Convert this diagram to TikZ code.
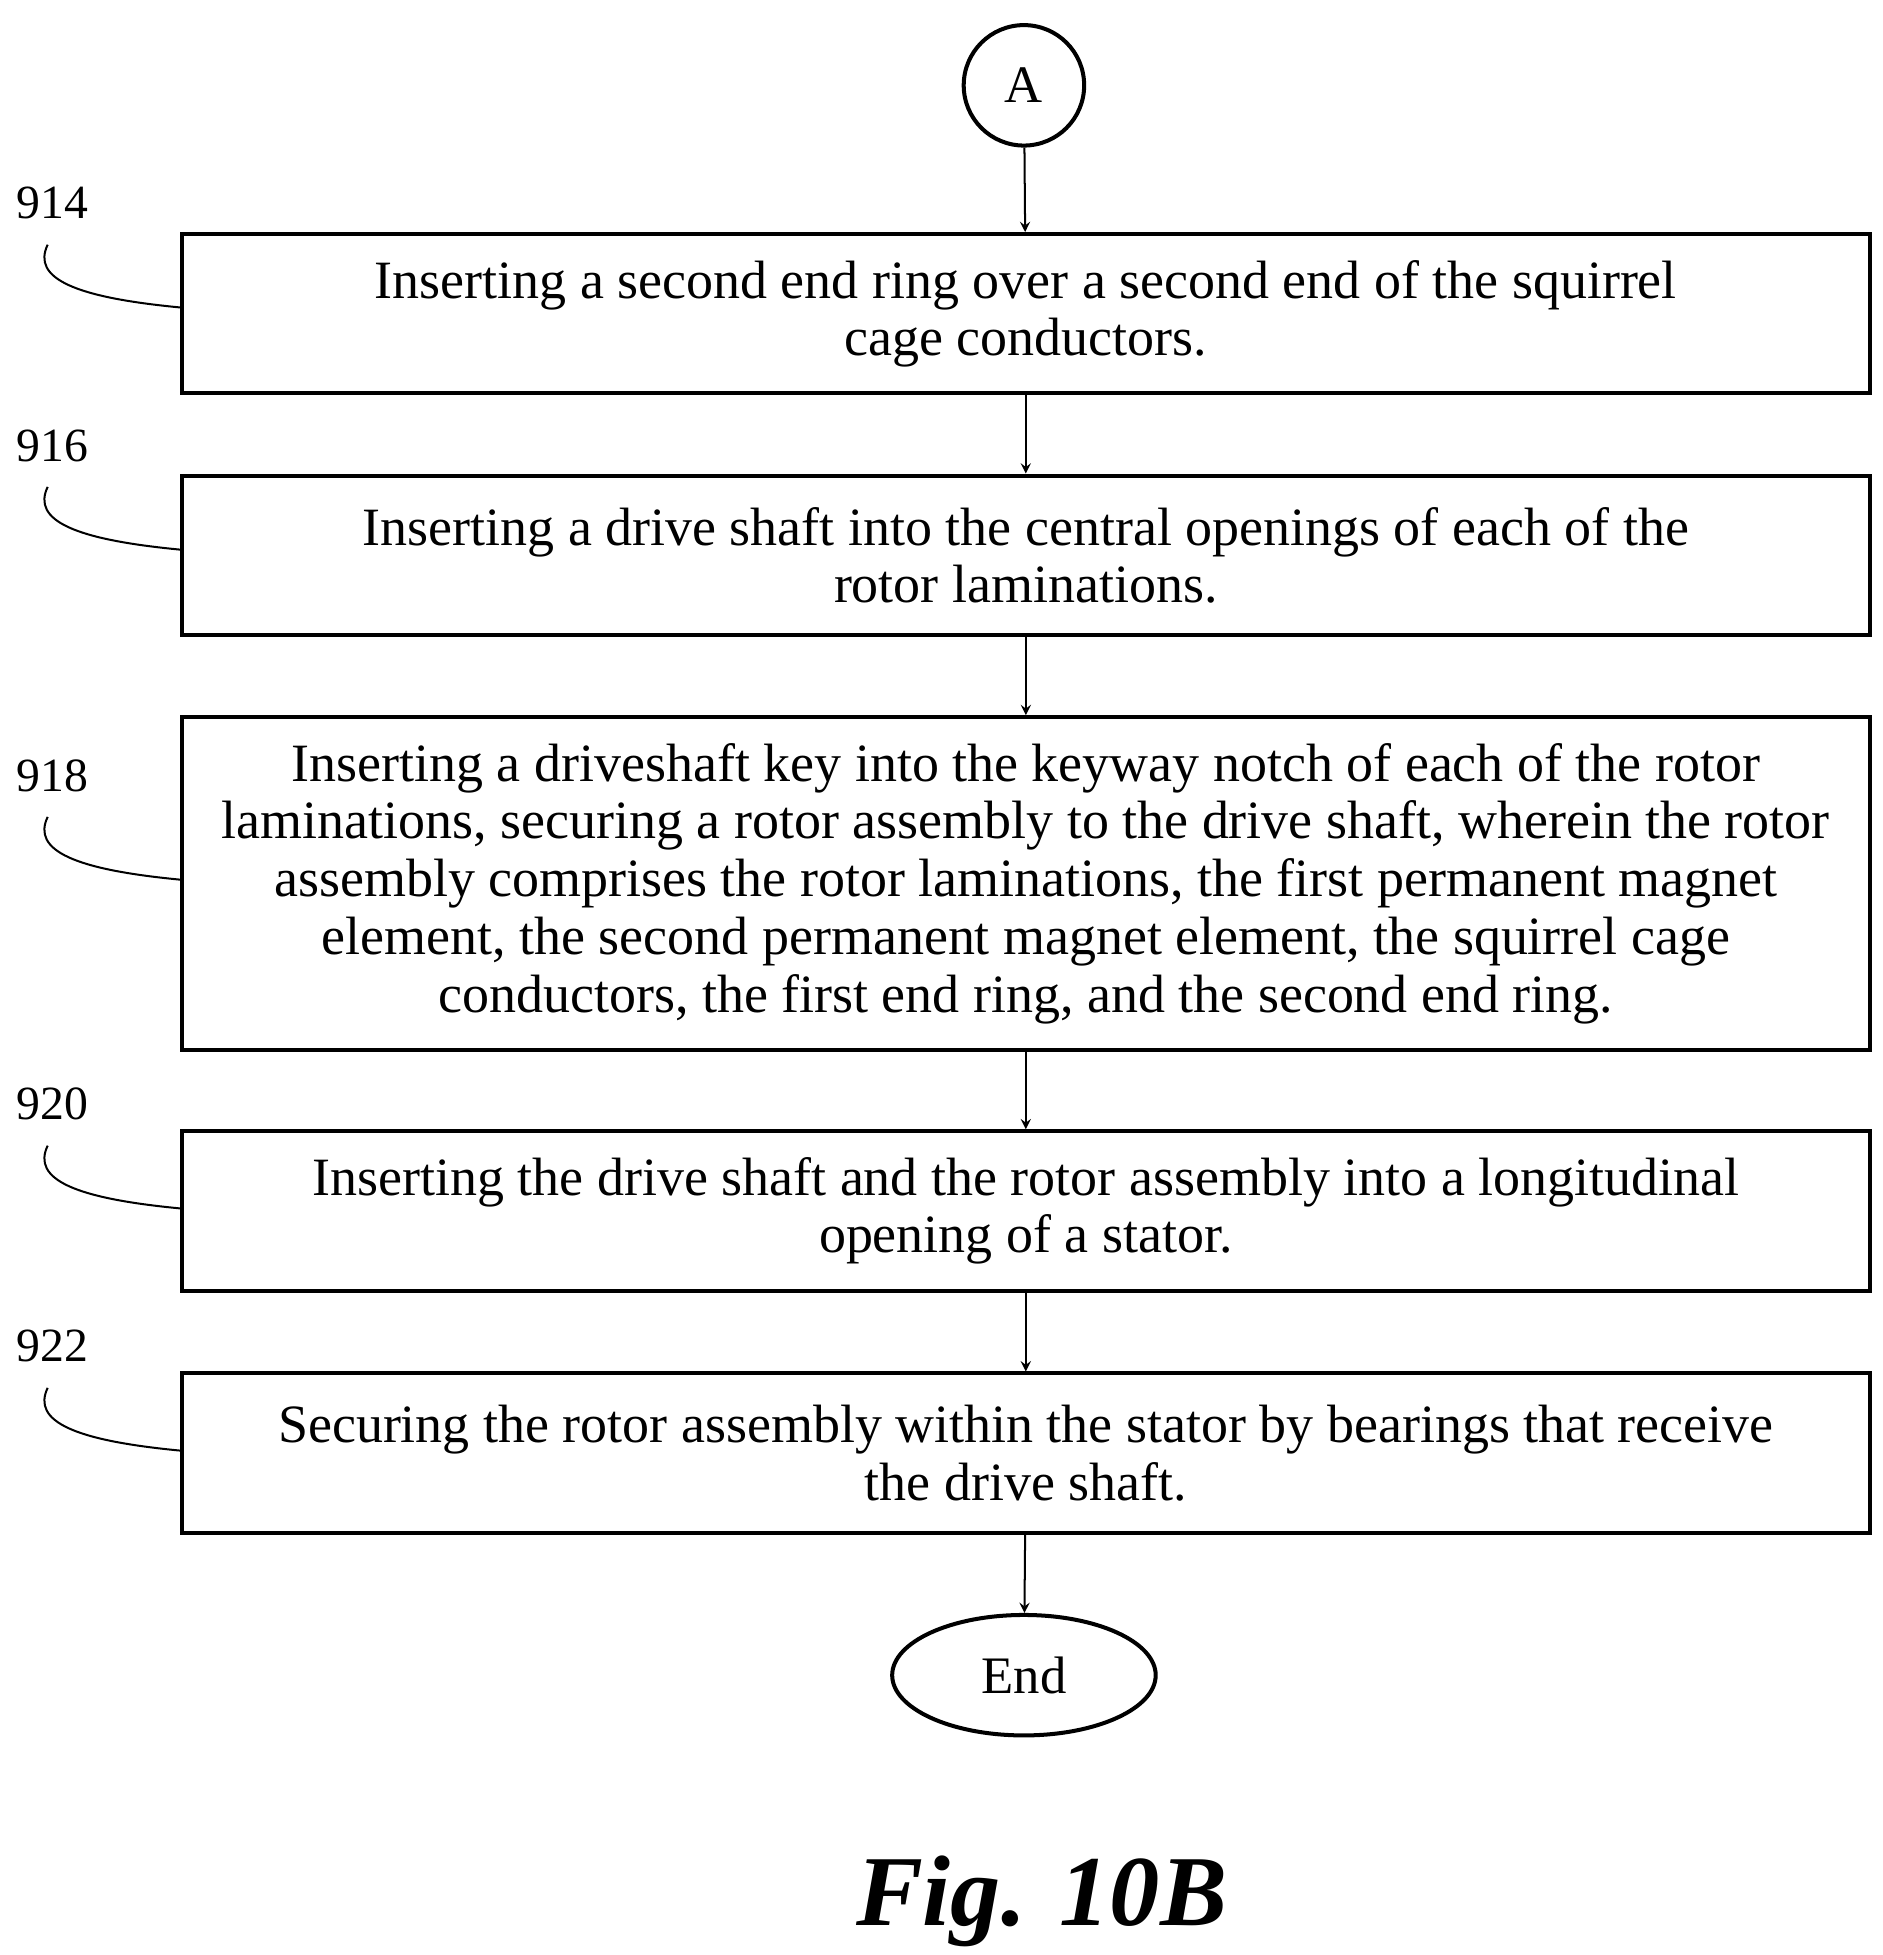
\documentclass[tikz,border=0pt]{standalone}
\usetikzlibrary{shapes.geometric}
\usepackage{fontspec}
\setmainfont{Liberation Serif}
\begin{document}
\begin{tikzpicture}[x=0.5pt,y=-0.5pt,
  box/.style={draw,line width=1.6pt,minimum width=672.5pt,align=center,inner sep=0pt,font=\fontsize{21.5}{23}\selectfont},
  lab/.style={font=\fontsize{19}{23}\selectfont},
  arr/.style={->,>=stealth,line width=0.8pt},
  lead/.style={line width=0.8pt}]
\useasboundingbox (0,0) rectangle (1500,1558);
\node[draw,circle,line width=1.6pt,minimum size=48pt,font=\fontsize{21}{23}\selectfont] (A) at (816,68) {A};
\node[box,minimum height=63.5pt] (b914) at (817.5,250) {Inserting a second end ring over a second end of the squirrel\\cage conductors.};
\node[box,minimum height=63.5pt] (b916) at (817.5,442.5) {Inserting a drive shaft into the central openings of each of the\\rotor laminations.};
\node[box,minimum height=132.5pt] (b918) at (817.5,704) {Inserting a driveshaft key into the keyway notch of each of the rotor\\laminations, securing a rotor assembly to the drive shaft, wherein the rotor\\assembly comprises the rotor laminations, the first permanent magnet\\element, the second permanent magnet element, the squirrel cage\\conductors, the first end ring, and the second end ring.};
\node[box,minimum height=63.5pt] (b920) at (817.5,965) {Inserting the drive shaft and the rotor assembly into a longitudinal\\opening of a stator.};
\node[box,minimum height=63.5pt] (b922) at (817.5,1158) {Securing the rotor assembly within the stator by bearings that receive\\the drive shaft.};
\node[draw,ellipse,line width=1.6pt,minimum width=105pt,minimum height=48pt,font=\fontsize{21}{23}\selectfont] (end) at (816,1335) {End};
\draw[arr] (A) -- (b914);
\draw[arr] (b914) -- (b916);
\draw[arr] (b916) -- (b918);
\draw[arr] (b918) -- (b920);
\draw[arr] (b920) -- (b922);
\draw[arr] (b922) -- (end);
\foreach \n/\y in {914/162,916/355,918/618,920/880,922/1073}{
  \node[lab] (l\n) at (42,\y) {\n};
  \coordinate (c\n) at (38,\y+33);
  \draw[lead] (c\n) .. controls (25,\y+60) and (60,\y+75) .. (b\n.west |- 0,\y+83);
}
\node[font=\bfseries\itshape\fontsize{40}{44}\selectfont] (fig) at (830,1515) {Fig. 10B};
\end{tikzpicture}
\end{document}
